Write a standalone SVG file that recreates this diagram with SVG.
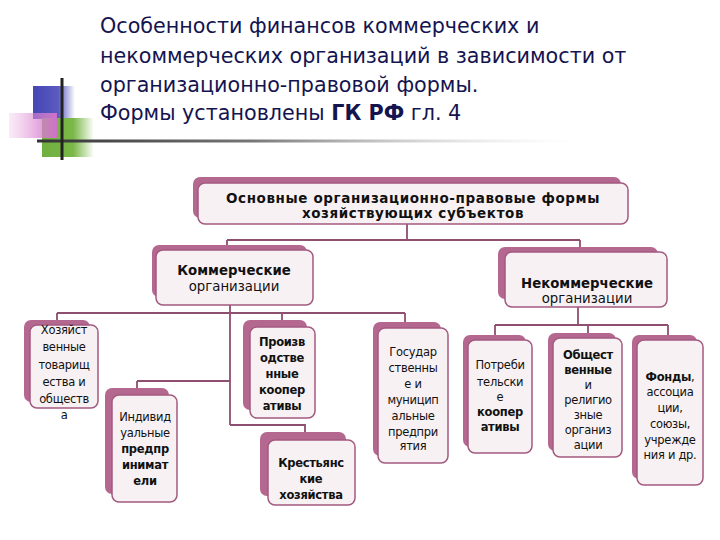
<svg xmlns="http://www.w3.org/2000/svg" width="720" height="540" viewBox="0 0 720 540">
<defs>
<linearGradient id="gBlue" x1="0" x2="1" y1="0" y2="0"><stop offset="0" stop-color="#4646b4"/><stop offset="0.6" stop-color="#5a5ac0"/><stop offset="1" stop-color="#5a5ac0" stop-opacity="0"/></linearGradient>
<linearGradient id="gPink" x1="0" x2="1" y1="0" y2="0"><stop offset="0" stop-color="#e6a0dc" stop-opacity="0.2"/><stop offset="1" stop-color="#d070c8"/></linearGradient>
<linearGradient id="gGreen" x1="0" x2="1" y1="0" y2="0"><stop offset="0" stop-color="#70b040"/><stop offset="0.6" stop-color="#7ab848"/><stop offset="1" stop-color="#7ab848" stop-opacity="0"/></linearGradient>
<linearGradient id="gLine" x1="0" x2="1" y1="0" y2="0"><stop offset="0" stop-color="#333333"/><stop offset="0.4" stop-color="#777777"/><stop offset="1" stop-color="#dddddd" stop-opacity="0"/></linearGradient>
</defs>
<style>
.title{font-family:"DejaVu Sans","Liberation Sans",sans-serif;font-size:20.7px;fill:#141450}
.sh{fill:#b5688f}
.fr{fill:#f8f1f4;stroke:#a35a80;stroke-width:1.5}
.t{font-family:"DejaVu Sans","Liberation Sans",sans-serif;font-size:11.5px;letter-spacing:-0.3px;fill:#111;text-anchor:middle}
.h{font-size:13.3px;letter-spacing:0px}
.m{font-size:13.5px;letter-spacing:0.6px}
.b{font-weight:bold}
.cn{fill:none;stroke:#8e4f70;stroke-width:1.8}
</style>
<rect width="720" height="540" fill="#ffffff"/>
<g id="decor">
<rect x="33" y="86" width="42" height="33" fill="url(#gBlue)"/>
<rect x="42" y="118" width="52" height="39" fill="url(#gGreen)"/>
<rect x="9" y="113" width="48" height="25" fill="url(#gPink)"/>
<rect x="37" y="139.5" width="540" height="3" fill="url(#gLine)"/>
<rect x="60.5" y="78" width="3" height="82" fill="#222222"/>
</g>
<g id="title">
<text class="title" x="100" y="33">Особенности финансов коммерческих и</text>
<text class="title" x="100" y="63">некоммерческих организаций в зависимости от</text>
<text class="title" x="100" y="92">организационно-правовой формы.</text>
<text class="title" x="100" y="120">Формы установлены <tspan font-weight="bold">ГК РФ</tspan> гл. 4</text>
</g>
<g id="connectors">
<path class="cn" d="M407 224 V240 M227 240 H580 M227 240 V246 M580 240 V248"/>
<path class="cn" d="M230 305 V425 M57 313 H405 M57 313 V321 M405 313 V323 M282 313 V321 M230 425 H305 V433 M137 381 H230 M137 381 V389"/>
<path class="cn" d="M578 307 V325 M495 325 H668 M495 325 V336 M588 325 V334 M668 325 V336"/>
</g>
<g id="n_main">
<rect class="sh" x="193" y="177" width="428" height="41" rx="7"/>
<rect class="fr" x="198" y="183" width="430" height="41" rx="7"/>
<text class="t m b" x="413" y="203">Основные организационно-правовые формы</text>
<text class="t m b" x="413" y="218">хозяйствующих субъектов</text>
</g>
<g id="n_comm">
<rect class="sh" x="152" y="245" width="155" height="52" rx="7"/>
<rect class="fr" x="156" y="250" width="157" height="55" rx="7"/>
<text class="t h b" x="234" y="275">Коммерческие</text>
<text class="t h" x="234" y="291">организации</text>
</g>
<g id="n_noncomm">
<rect class="sh" x="498" y="247" width="160" height="52" rx="7"/>
<rect class="fr" x="505" y="252" width="162" height="55" rx="7"/>
<text class="t h b" x="587" y="288">Некоммерческие</text>
<text class="t h" x="587" y="303">организации</text>
</g>
<g id="n_hoz">
<rect class="sh" x="24" y="320" width="66" height="82" rx="7"/>
<rect class="fr" x="30" y="325" width="68" height="83" rx="7"/>
<text class="t" x="64" y="334">Хозяйст</text>
<text class="t" x="64" y="351">венные</text>
<text class="t" x="64" y="369">товарищ</text>
<text class="t" x="64" y="386">ества и</text>
<text class="t" x="64" y="403">обществ</text>
<text class="t" x="64" y="419">а</text>
</g>
<g id="n_ind">
<rect class="sh" x="105" y="388" width="64" height="106" rx="7"/>
<rect class="fr" x="112" y="395" width="65" height="107" rx="7"/>
<text class="t" x="145" y="421">Индивид</text>
<text class="t" x="145" y="437">уальные</text>
<text class="t b" x="145" y="453">предпр</text>
<text class="t b" x="145" y="469">инимат</text>
<text class="t b" x="145" y="485">ели</text>
</g>
<g id="n_proizv">
<rect class="sh" x="243" y="320" width="64" height="90" rx="7"/>
<rect class="fr" x="250" y="327" width="65" height="91" rx="7"/>
<text class="t b" x="282" y="346">Произв</text>
<text class="t b" x="282" y="362">одстве</text>
<text class="t b" x="282" y="378">нные</text>
<text class="t b" x="282" y="394">коопер</text>
<text class="t b" x="282" y="410">ативы</text>
</g>
<g id="n_krest">
<rect class="sh" x="260" y="432" width="86" height="64" rx="7"/>
<rect class="fr" x="268" y="440" width="87" height="65" rx="7"/>
<text class="t b" x="311" y="467">Крестьянс</text>
<text class="t b" x="311" y="483">кие</text>
<text class="t b" x="311" y="499">хозяйства</text>
</g>
<g id="n_gos">
<rect class="sh" x="373" y="322" width="68" height="134" rx="7"/>
<rect class="fr" x="378" y="328" width="70" height="135" rx="7"/>
<text class="t" x="413" y="356">Государ</text>
<text class="t" x="413" y="372">ственны</text>
<text class="t" x="413" y="388">е и</text>
<text class="t" x="413" y="404">муницип</text>
<text class="t" x="413" y="420">альные</text>
<text class="t" x="413" y="436">предпри</text>
<text class="t" x="413" y="450">ятия</text>
</g>
<g id="n_potr">
<rect class="sh" x="463" y="335" width="63" height="112" rx="7"/>
<rect class="fr" x="468" y="340" width="64" height="113" rx="7"/>
<text class="t" x="500" y="369">Потреби</text>
<text class="t" x="500" y="386">тельски</text>
<text class="t" x="500" y="401">е</text>
<text class="t b" x="500" y="416">коопер</text>
<text class="t b" x="500" y="431">ативы</text>
</g>
<g id="n_obsh">
<rect class="sh" x="548" y="333" width="68" height="118" rx="7"/>
<rect class="fr" x="553" y="338" width="69" height="119" rx="7"/>
<text class="t b" x="588" y="359">Общест</text>
<text class="t b" x="588" y="374">венные</text>
<text class="t" x="588" y="389">и</text>
<text class="t" x="588" y="404">религио</text>
<text class="t" x="588" y="419">зные</text>
<text class="t" x="588" y="434">организ</text>
<text class="t" x="588" y="449">ации</text>
</g>
<g id="n_fond">
<rect class="sh" x="632" y="335" width="65" height="144" rx="7"/>
<rect class="fr" x="637" y="340" width="66" height="145" rx="7"/>
<text class="t" x="670" y="381"><tspan font-weight="bold">Фонды</tspan>,</text>
<text class="t" x="670" y="396">ассоциа</text>
<text class="t" x="670" y="412">ции,</text>
<text class="t" x="670" y="428">союзы,</text>
<text class="t" x="670" y="444">учрежде</text>
<text class="t" x="670" y="459">ния и др.</text>
</g>
</svg>
